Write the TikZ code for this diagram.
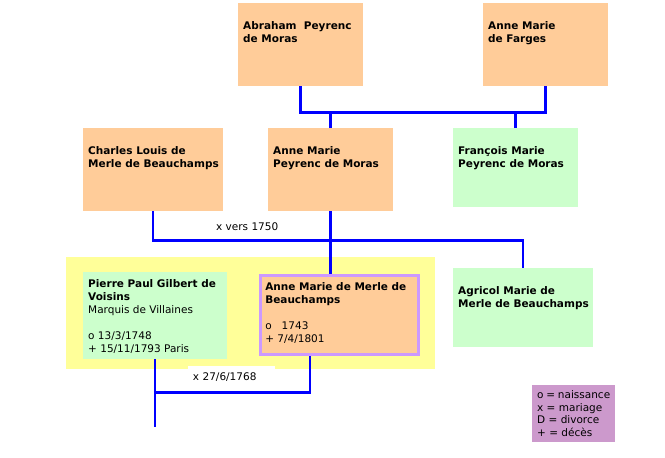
\documentclass[tikz,border=0pt]{standalone}
\usepackage{fontspec}
\setmainfont{DejaVu Sans}
\definecolor{peche}{HTML}{FFCC99}
\definecolor{menthe}{HTML}{CCFFCC}
\definecolor{jaune}{HTML}{FFFF99}
\definecolor{mauve}{HTML}{CC99CC}
\definecolor{lilas}{HTML}{CC99FF}
\definecolor{bleu}{HTML}{0000FF}
\newcommand{\carte}[4]{\begin{minipage}[t][#2][t]{#1}\raggedright\leftskip=5pt\vspace*{#3}\strut#4\end{minipage}}

\begin{document}
\begin{tikzpicture}[x=1pt,y=-1pt]
\tikzstyle{fiche}=[anchor=north west,inner sep=0pt,font=\fontsize{10.5}{13}\selectfont]
\tikzstyle{asc}=[fiche,fill=peche]
\tikzstyle{col}=[fiche,fill=menthe]
\tikzstyle{lien}=[draw=bleu,line width=2.5pt]
\tikzstyle{note}=[font=\fontsize{10.5}{13}\selectfont,inner sep=0pt]
\useasboundingbox (0,0) rectangle (665,458);

\fill[jaune] (66,256.7) rectangle (435,369.3);

% grands-parents
\node[asc] (abraham) at (238,3) {\carte{124.7pt}{82.7pt}{17.6pt}{\textbf{Abraham~ Peyrenc\\de Moras}}};
\node[asc] (farges) at (483,3) {\carte{125pt}{82.7pt}{17.6pt}{\textbf{Anne Marie\\de Farges}}};

% parents
\node[asc] (charles) at (83,128) {\carte{139.7pt}{82.7pt}{17.6pt}{\textbf{Charles Louis de\\Merle de Beauchamps}}};
\node[asc] (peyrenc) at (268,128) {\carte{124.7pt}{82.7pt}{17.6pt}{\textbf{Anne Marie\\Peyrenc de Moras}}};
\node[col] (francois) at (453,128) {\carte{124.7pt}{78.7pt}{17.6pt}{\textbf{François Marie\\Peyrenc de Moras}}};

% couple
\node[col] (pierre) at (83,272) {\carte{143.7pt}{87pt}{5.9pt}{\textbf{Pierre Paul Gilbert de\\Voisins}\\Marquis de Villaines\\[13pt]o 13/3/1748\\+ 15/11/1793 Paris}};
\node[asc,draw=lilas,line width=3pt] (merle) at (258.8,273.5) {\carte{158.4pt}{79.7pt}{6.8pt}{\textbf{Anne Marie de Merle de\\Beauchamps}\\[13pt]o~~~1743\\+ 7/4/1801}};
\node[col] (agricol) at (453,268) {\carte{139.7pt}{78.7pt}{17.6pt}{\textbf{Agricol Marie de\\Merle de Beauchamps}}};

\node[note,fill=mauve,anchor=north west,minimum width=83pt,minimum height=57pt,inner xsep=5pt,text width=73pt,align=flush left,font=\fontsize{10.5}{12.5}\selectfont] (legende) at (532,385) {o~=~naissance\\x~=~mariage\\D~=~divorce\\+~=~décès};

\coordinate (u1) at (420,112.7);
\coordinate (u2) at (340,240.7);
\coordinate (u3) at (230,392.7);
\coordinate (suite) at (154,427);

\draw[lien] (abraham.south) |- (u1) -| (farges.south);
\draw[lien] (peyrenc.north) -- (peyrenc.north |- u1);
\draw[lien] (francois.north) -- (francois.north |- u1);
\draw[lien] (charles.south) |- (u2) -| (agricol.north);
\draw[lien] (peyrenc.south) -- (peyrenc.south |- merle.north);
\draw[lien] ([xshift=-29.3pt]merle.south) |- (pierre.south |- u3);
\draw[lien] (pierre.south) -- (pierre.south |- suite);

\node[note,anchor=base west] (vers) at (216,230) {x vers 1750};
\node[note,fill=white,anchor=north west,minimum width=87.3pt,minimum height=22pt,inner xsep=5pt,text width=77.3pt,align=left] (noces) at (187.7,365.7) {x 27/6/1768};
\end{tikzpicture}
\end{document}
